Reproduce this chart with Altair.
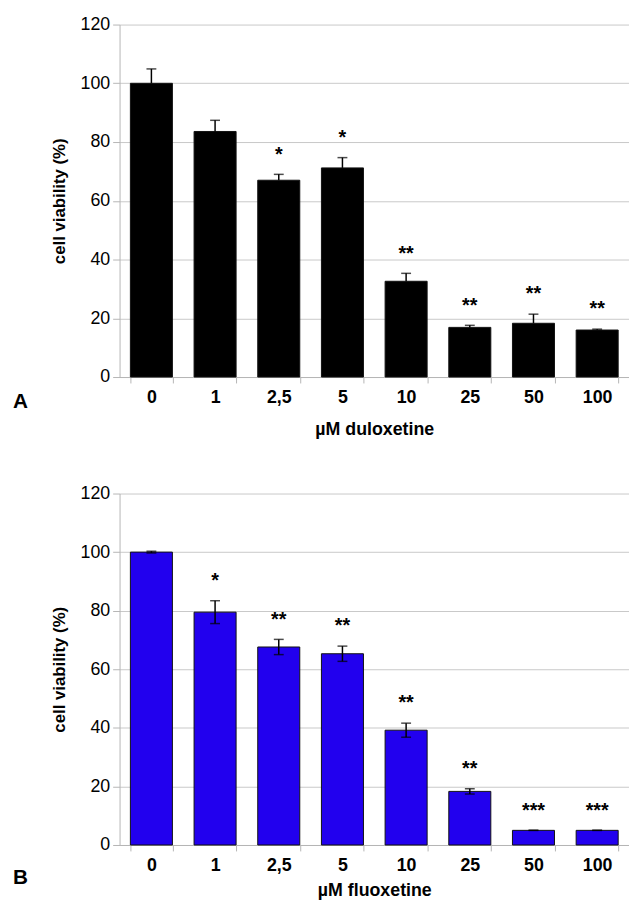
import altair as alt
import pandas as pd

conc = ["0", "1", "2,5", "5", "10", "25", "50", "100"]

dul_mean = [100, 83.6, 67.0, 71.2, 32.6, 16.9, 18.3, 16.0]
dul_err = [4.9, 3.8, 2.0, 3.5, 2.7, 0.7, 3.1, 0.3]
dul_sig = ["", "", "*", "*", "**", "**", "**", "**"]

flu_mean = [100, 79.5, 67.6, 65.3, 39.2, 18.3, 5.0, 5.0]
flu_err = [0.3, 3.9, 2.6, 2.6, 2.4, 0.9, 0.0, 0.0]
flu_sig = ["", "*", "**", "**", "**", "**", "***", "***"]

FONT = "Liberation Sans"
W = 516
H1 = 357
H2 = 356


def panel(mean, err, sig, color, xtitle, letter, h, both_sides, title_pad, letter_y):
    df = pd.DataFrame({"conc": conc, "mean": mean, "err": err, "sig": sig})
    base = alt.Chart(df).transform_calculate(
        hi="datum.mean + datum.err",
        lo=("datum.mean - datum.err" if both_sides else "datum.mean"),
    )
    xenc = alt.X(
        "conc:N",
        sort=conc,
        title=xtitle,
        scale=alt.Scale(paddingInner=0.34, paddingOuter=0.17),
        axis=alt.Axis(
            labelAngle=0,
            tickBand="extent",
            tickSize=6,
            labelPadding=6,
            labelFont=FONT,
            labelFontSize=18,
            labelFontWeight="bold",
            labelColor="black",
            titleFont=FONT,
            titleFontSize=18,
            titleFontWeight="bold",
            titleColor="black",
            titlePadding=title_pad,
            domainColor="#b5b5b5",
            tickColor="#b5b5b5",
            grid=False,
        ),
    )
    yscale = alt.Scale(domain=[0, 120], nice=False)
    yaxis = alt.Axis(
        values=[0, 20, 40, 60, 80, 100, 120],
        tickSize=7,
        labelPadding=3,
        labelFont=FONT,
        labelFontSize=18,
        labelColor="black",
        titleFont=FONT,
        titleFontSize=17,
        titleFontWeight="bold",
        titleColor="black",
        titlePadding=12,
        gridColor="#c8c8c8",
        gridWidth=1,
        domainColor="#b5b5b5",
        tickColor="#b5b5b5",
    )
    bars = base.mark_bar(color=color, stroke="#111111", strokeWidth=1).encode(
        x=xenc,
        y=alt.Y("mean:Q", scale=yscale, axis=yaxis, title="cell viability (%)"),
    )
    rule = base.mark_rule(color="black", strokeWidth=1.5).encode(
        x=alt.X("conc:N", sort=conc), y="lo:Q", y2="hi:Q"
    )
    cap_hi = base.mark_tick(color="black", thickness=1.5, size=10).encode(
        x=alt.X("conc:N", sort=conc), y="hi:Q"
    )
    layers = [bars, rule, cap_hi]
    if both_sides:
        cap_lo = base.mark_tick(color="black", thickness=1.5, size=10).encode(
            x=alt.X("conc:N", sort=conc), y="lo:Q"
        )
        layers.append(cap_lo)
    stars = base.mark_text(
        font=FONT, fontSize=20, fontWeight="bold", color="black",
        baseline="alphabetic", dy=-14,
    ).encode(x=alt.X("conc:N", sort=conc), y="hi:Q", text="sig:N")
    layers.append(stars)
    let = alt.Chart(pd.DataFrame({"t": [letter]})).mark_text(
        font=FONT, fontSize=21, fontWeight="bold", color="black",
        align="left", baseline="alphabetic",
    ).encode(text="t:N", x=alt.value(-108), y=alt.value(letter_y))
    layers.append(let)
    return alt.layer(*layers).properties(width=W, height=h)


top = panel(dul_mean, dul_err, dul_sig, "#000000", "µM duloxetine", "A", H1, False, 14, H1 + 31)
bot = panel(flu_mean, flu_err, flu_sig, "#2200EE", "µM fluoxetine", "B", H2, True, 7, H2 + 40)

chart = alt.vconcat(top, bot, spacing=47).properties(
    padding={"left": 5, "top": 2, "right": 0, "bottom": 0}
).configure_view(stroke=None)

chart.save("out.html", embed_options={"renderer": "svg", "actions": False})
